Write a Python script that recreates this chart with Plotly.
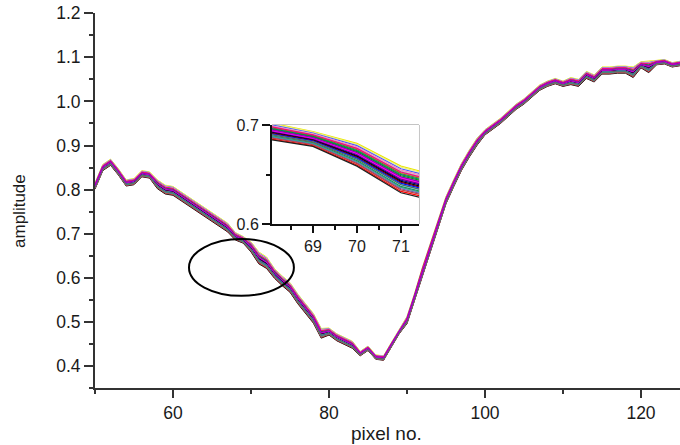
import numpy as np
import plotly.graph_objects as go

# pixel numbers
pixels = list(range(50, 126))

# mean amplitude of the bundle of curves (x = 50..125)
base_amplitude = [
    0.808, 0.850, 0.862, 0.840, 0.815, 0.818, 0.836, 0.833, 0.812, 0.800,   # 50-59
    0.797, 0.785, 0.772, 0.760, 0.748, 0.737, 0.726, 0.714, 0.694, 0.686,   # 60-69
    0.670, 0.645, 0.634, 0.610, 0.593, 0.578, 0.552, 0.530, 0.508, 0.474,   # 70-79
    0.478, 0.465, 0.456, 0.448, 0.428, 0.440, 0.420, 0.418, 0.448, 0.478,   # 80-89
    0.504, 0.558, 0.617, 0.670, 0.724, 0.776, 0.815, 0.852, 0.882, 0.909,   # 90-99
    0.930, 0.943, 0.956, 0.972, 0.988, 1.000, 1.016, 1.031, 1.040, 1.046,   # 100-109
    1.040, 1.046, 1.042, 1.060, 1.052, 1.070, 1.070, 1.072, 1.072, 1.066,   # 110-119
    1.083, 1.078, 1.088, 1.090, 1.083, 1.086,                               # 120-125
]

# half width of the bundle at each pixel
band_halfwidth = [
    0.007, 0.007, 0.007, 0.007, 0.007, 0.007, 0.007, 0.007, 0.010, 0.010,
    0.010, 0.010, 0.010, 0.010, 0.010, 0.010, 0.010, 0.010, 0.0085, 0.0075,
    0.0115, 0.0135, 0.013, 0.011, 0.011, 0.011, 0.011, 0.011, 0.011, 0.011,
    0.008, 0.008, 0.008, 0.008, 0.005, 0.005, 0.005, 0.005, 0.005, 0.005,
    0.008, 0.008, 0.008, 0.008, 0.008, 0.008, 0.008, 0.008, 0.008, 0.008,
    0.006, 0.006, 0.006, 0.006, 0.006, 0.006, 0.006, 0.006, 0.006, 0.006,
    0.006, 0.008, 0.008, 0.008, 0.008, 0.008, 0.008, 0.008, 0.008, 0.012,
    0.007, 0.013, 0.005, 0.005, 0.005, 0.005,
]

# each curve: colour and its relative position inside the bundle (+1 top, -1 bottom)
curve_colors = [
    "#E8E800", "#F0F080", "#4060FF", "#FF80C0", "#C0C0C0", "#909090",
    "#808000", "#008080", "#00A000", "#505050", "#FF8000", "#8000FF",
    "#000080", "#000000", "#800000", "#0000FF", "#00C0C0", "#80E0FF",
    "#008000", "#FF0000", "#202020", "#A0A0A0", "#6060C0", "#C04040",
    "#30A090", "#FF0080", "#606060", "#800080", "#FF00FF", "#9000C0",
]
curve_offsets = [
    1.00, 0.92, 0.80, 0.70, 0.62, 0.52,
    0.44, 0.36, 0.28, 0.18, 0.10, 0.02,
    -0.06, -0.14, -0.22, -0.30, -0.38, -0.46,
    -0.54, -0.90, -1.00, -0.62, -0.70, -0.78,
    -0.58, 0.56, -0.40, 0.04, 0.12, 0.20,
]

x_label = "pixel no."
y_label = "amplitude"

# ellipse marking the zoomed region (data units)
ellipse_x = [62.05, 75.5]
ellipse_y = [0.559, 0.688]

# inset view range
inset_x_range = [68.07, 71.41]
inset_y_range = [0.5999, 0.7001]

fig = go.Figure()
base = np.array(base_amplitude)
half = np.array(band_halfwidth)

for color, off in zip(curve_colors, curve_offsets):
    yv = base + off * half
    fig.add_trace(go.Scatter(x=pixels, y=yv, mode="lines",
                             line=dict(color=color, width=1),
                             showlegend=False, xaxis="x", yaxis="y"))
for color, off in zip(curve_colors, curve_offsets):
    yv = base + off * half
    fig.add_trace(go.Scatter(x=pixels, y=yv, mode="lines",
                             line=dict(color=color, width=1.2),
                             showlegend=False, xaxis="x2", yaxis="y2"))

font_family = "Liberation Sans, Arial, sans-serif"
axis_color = "#333333"

fig.update_layout(
    width=680, height=445,
    margin=dict(l=95, r=0, t=13, b=57),
    paper_bgcolor="white", plot_bgcolor="white",
    font=dict(family=font_family, size=17, color="#1a1a1a"),
    xaxis=dict(
        domain=[0, 1], range=[50, 125], showgrid=False, zeroline=False,
        showline=True, linecolor=axis_color, linewidth=2,
        ticks="outside", tick0=0, dtick=20, ticklen=8, tickwidth=2, tickcolor=axis_color,
        minor=dict(ticks="outside", tick0=0, dtick=10, ticklen=4, tickwidth=2, tickcolor=axis_color),
        tickfont=dict(size=17.5), anchor="y",
    ),
    yaxis=dict(
        domain=[0, 1], range=[0.35, 1.2005], showgrid=False, zeroline=False,
        showline=True, linecolor=axis_color, linewidth=2,
        ticks="outside", tick0=0.4, dtick=0.1, ticklen=9, tickwidth=2, tickcolor=axis_color,
        tickformat=".1f",
        minor=dict(ticks="outside", tick0=0.35, dtick=0.05, ticklen=4, tickwidth=2, tickcolor=axis_color),
        tickfont=dict(size=17.5), anchor="x",
    ),
    xaxis2=dict(
        domain=[0.3026, 0.5538], range=inset_x_range, showgrid=False, zeroline=False,
        showline=True, linecolor="#111111", linewidth=2, anchor="y2",
        ticks="outside", tick0=0, dtick=1, ticklen=7, tickwidth=2, tickcolor="#111111",
        minor=dict(ticks="outside", tick0=0, dtick=0.5, ticklen=4, tickwidth=2, tickcolor="#111111"),
        tickfont=dict(size=16),
    ),
    yaxis2=dict(
        domain=[0.4373, 0.7013], range=inset_y_range, showgrid=False, zeroline=False,
        showline=True, linecolor="#111111", linewidth=2, anchor="x2",
        ticks="outside", tick0=0.6, dtick=0.1, ticklen=8, tickwidth=2, tickcolor="#111111",
        tickformat=".1f",
        minor=dict(ticks="outside", tick0=0.6, dtick=0.05, ticklen=4, tickwidth=2, tickcolor="#111111"),
        tickfont=dict(size=16),
    ),
    shapes=[
        dict(type="rect", xref="x2 domain", yref="y2 domain", x0=0, x1=1, y0=0, y1=1,
             line=dict(color="#888888", width=1), layer="below"),
        dict(type="circle", xref="x", yref="y",
             x0=ellipse_x[0], x1=ellipse_x[1], y0=ellipse_y[0], y1=ellipse_y[1],
             line=dict(color="black", width=2)),
    ],
    annotations=[
        dict(text=x_label, xref="paper", yref="paper", x=0.498, y=-0.12,
             showarrow=False, font=dict(size=19), xanchor="center", yanchor="middle"),
        dict(text=y_label, xref="paper", yref="paper", x=-0.13, y=0.472,
             showarrow=False, font=dict(size=17), textangle=-90,
             xanchor="center", yanchor="middle"),
    ],
)

fig.write_html("out.html",
               config={"displayModeBar": False},
               post_script="document.body.style.margin='0';document.body.style.overflow='hidden';")
